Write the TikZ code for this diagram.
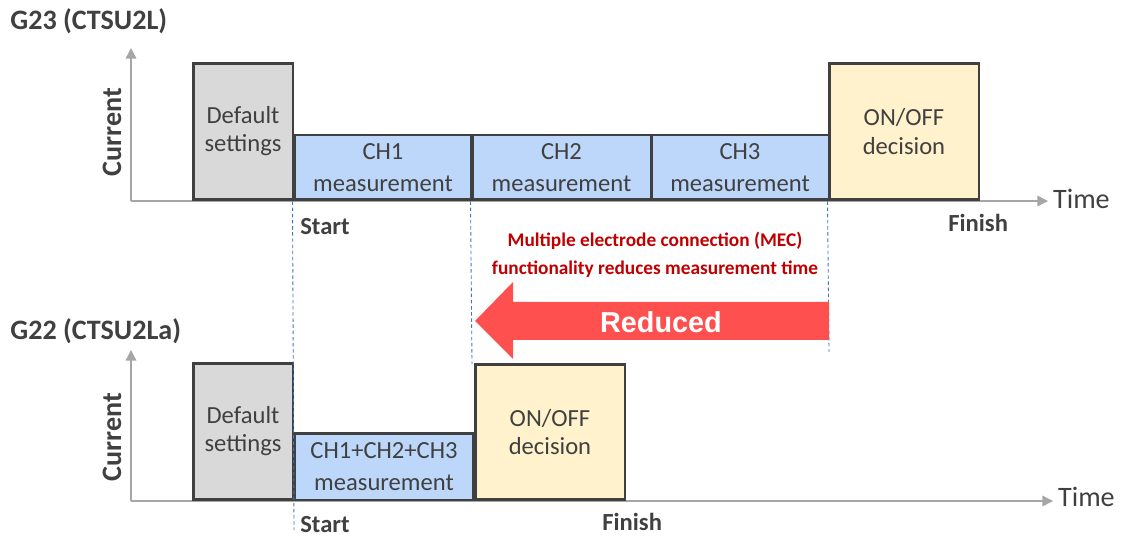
\documentclass[tikz,border=0pt]{standalone}
\usepackage{fontspec}
\setmainfont{Carlito}
\newfontfamily\arialfont{Liberation Sans}
\definecolor{ink}{HTML}{404040}
\definecolor{axisgray}{HTML}{A6A6A6}
\definecolor{greyfill}{HTML}{D9D9D9}
\definecolor{bluefill}{HTML}{BDD7FA}
\definecolor{yellowfill}{HTML}{FFF2CC}
\definecolor{guideblue}{HTML}{4472C4}
\definecolor{redtext}{HTML}{C00000}
\definecolor{redarrow}{HTML}{FF5050}
\tikzset{
  box/.style={draw=ink, line width=1.7pt, inner sep=0pt, text=ink,
    align=center, font=\fontsize{14}{16}\selectfont},
  axis/.style={axisgray, line width=0.8pt, -{Triangle[length=6pt,width=6pt]}},
  guide/.style={guideblue, line width=0.5pt, dash pattern=on 2pt off 1.5pt},
  title/.style={anchor=west, inner sep=0pt, text=ink, font=\fontsize{16}{19}\bfseries},
}
\usetikzlibrary{arrows.meta}
\begin{document}
\begin{tikzpicture}[x=0.02cm, y=-0.02cm]
      \useasboundingbox (0,0) rectangle (1131,543) ;
      % G23
      \node[title] (t1) at (10,21) {G23 (CTSU2L)} ;
      \coordinate (o1) at (131,201) ;
      \coordinate (y1) at (131,48) ;
      \coordinate (x1) at (1048,201) ;
      \draw[axis] (o1)--(y1) ;
      \draw[axis] (o1)--(x1) ;
      \node[anchor=west, text=ink, font=\fontsize{16}{19}\selectfont, inner sep=1pt] (time1) at (1051,199) {Time} ;
      \node[rotate=90, text=ink, font=\fontsize{16}{19}\bfseries] (cur1) at (112,132) {Current} ;
      \node[box, fill=greyfill, minimum width=2cm, minimum height=2.74cm] %
      (def1) at (243,131.5) {Default\\settings} ;
      \node[box, fill=bluefill, minimum width=3.56cm, minimum height=1.3cm, font=\fontsize{14}{18}\selectfont] %
      (ch1) at (383,167.5) {CH1\\measurement} ;
      \node[box, fill=bluefill, minimum width=3.58cm, minimum height=1.3cm, font=\fontsize{14}{18}\selectfont] %
      (ch2) at (561.5,167.5) {CH2\\measurement} ;
      \node[box, fill=bluefill, minimum width=3.56cm, minimum height=1.3cm, font=\fontsize{14}{18}\selectfont] %
      (ch3) at (740,167.5) {CH3\\measurement} ;
      \node[box, fill=yellowfill, minimum width=3cm, minimum height=2.74cm] %
      (dec1) at (904,131.5) {ON/OFF\\decision} ;
      \node[anchor=west, inner sep=0pt, text=ink, font=\fontsize{14}{16}\bfseries] (start1) at (300,227) {Start} ;
      \node[anchor=west, inner sep=0pt, text=ink, font=\fontsize{14}{16}\bfseries] (fin1) at (948,223) {Finish} ;
      % G22
      \node[title] (t2) at (10,331) {G22 (CTSU2La)} ;
      \coordinate (o2) at (131,501) ;
      \coordinate (y2) at (131,350) ;
      \coordinate (x2) at (1053,501) ;
      \draw[axis] (o2)--(y2) ;
      \draw[axis] (o2)--(x2) ;
      \node[anchor=west, text=ink, font=\fontsize{16}{19}\selectfont, inner sep=1pt] (time2) at (1056,497) {Time} ;
      \node[rotate=90, text=ink, font=\fontsize{16}{19}\bfseries] (cur2) at (112,437) {Current} ;
      \node[box, fill=greyfill, minimum width=2cm, minimum height=2.74cm] %
      (def2) at (243,431.5) {Default\\settings} ;
      \node[box, fill=bluefill, minimum width=3.6cm, minimum height=1.34cm, font=\fontsize{14}{18}\selectfont] %
      (ch123) at (384,466.5) {CH1+CH2+CH3\\measurement} ;
      \node[box, fill=yellowfill, minimum width=3cm, minimum height=2.72cm] %
      (dec2) at (550,432) {ON/OFF\\decision} ;
      \node[anchor=west, inner sep=0pt, text=ink, font=\fontsize{14}{16}\bfseries] (start2) at (300,525) {Start} ;
      \node[anchor=west, inner sep=0pt, text=ink, font=\fontsize{14}{16}\bfseries] (fin2) at (602,522) {Finish} ;
      % guides
      \coordinate (g1) at (294,530) ;
      \coordinate (g2) at (472,364) ;
      \coordinate (g3) at (829,352) ;
      \draw[guide] (ch1.south west)--(g1) ;
      \draw[guide] (ch2.south west)--(g2) ;
      \draw[guide] (dec1.south west)--(g3) ;
      % reduced
      \fill[redarrow] (475,321)--(513,282)--(513,302)--(829,302)--(829,340)--(513,340)--(513,359)--cycle ;
      \node[text=white, font=\arialfont\fontsize{16.4}{19}\bfseries] (red) at (661,322) {Reduced} ;
      \node[text=redtext, align=center, font=\fontsize{11}{16}\bfseries] (mec) at (655,255) %
      {Multiple electrode connection (MEC)\\functionality reduces measurement time} ;
    \end{tikzpicture}
\end{document}
